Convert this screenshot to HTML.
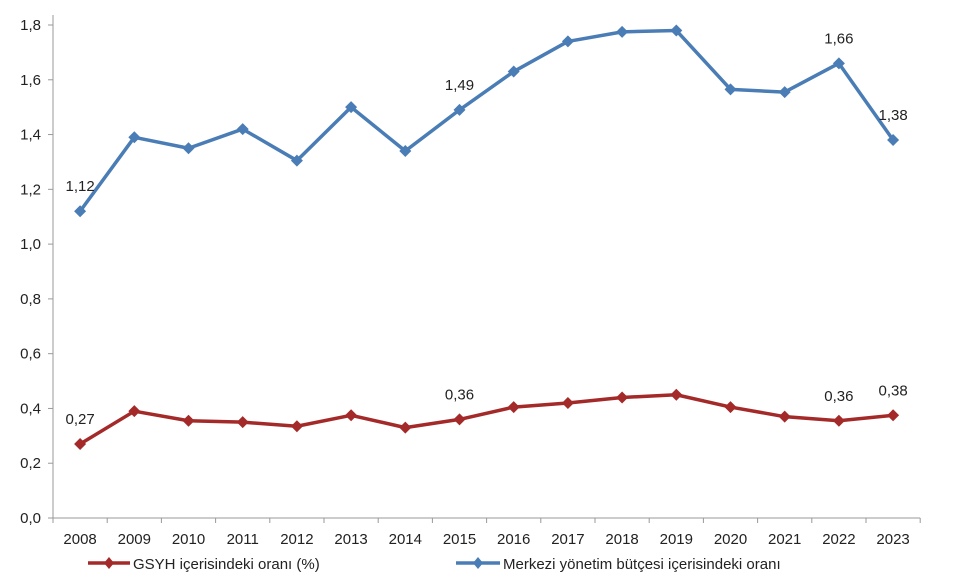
<!DOCTYPE html>
<html><head><meta charset="utf-8"><style>
body{margin:0;background:#fff}
svg text{font-family:"Liberation Sans",sans-serif;font-size:15px;fill:#222}
</style></head><body>
<svg width="960" height="576" id="c">
<g id="axes"></g><g id="marks"></g>
<g>
<g>
<line x1="88" y1="563" x2="130" y2="563" stroke="#a32a28" stroke-width="3.5"/>
<path d="M109 557 L114 563 L109 569 L104 563Z" fill="#a32a28"/>
<text x="133" y="569">GSYH içerisindeki oranı (%)</text></g>
<g>
<line x1="456" y1="563" x2="500" y2="563" stroke="#4a7db5" stroke-width="3.5"/>
<path d="M478 557 L483 563 L478 569 L473 563Z" fill="#4a7db5"/>
<text x="503" y="569">Merkezi yönetim bütçesi içerisindeki oranı</text></g>
</g>
</svg>
<script>
const years=["2008","2009","2010","2011","2012","2013","2014","2015","2016","2017","2018","2019","2020","2021","2022","2023"];
const budgetShare=[1.12,1.39,1.35,1.42,1.305,1.50,1.34,1.49,1.63,1.74,1.775,1.78,1.565,1.555,1.66,1.38];
const gdpShare=[0.27,0.39,0.355,0.35,0.335,0.375,0.33,0.36,0.405,0.42,0.44,0.45,0.405,0.37,0.355,0.375];
const yTicks=[0,0.2,0.4,0.6,0.8,1.0,1.2,1.4,1.6,1.8];
const budgetLabels={0:"1,12",7:"1,49",14:"1,66",15:"1,38"};
const gdpLabels={0:"0,27",7:"0,36",14:"0,36",15:"0,38"};
const NS="http://www.w3.org/2000/svg";
const x0=53,step=54.2,y0=518,ppu=(518-25)/1.8;
const X=i=>x0+step*(i+0.5), Y=v=>y0-v*ppu;
function mk(t,a,p){const e=document.createElementNS(NS,t);for(const k in a)e.setAttribute(k,a[k]);p.appendChild(e);return e;}
const ax=document.getElementById('axes'),mg=document.getElementById('marks');
let l=mk('line',{x1:x0,y1:15,x2:x0,y2:y0,stroke:'#999'},ax);


l=mk('line',{x1:x0,y1:y0,x2:x0+step*years.length,y2:y0,stroke:'#999'},ax);


yTicks.forEach(v=>{mk('line',{x1:x0-5,y1:Y(v),x2:x0,y2:Y(v),stroke:'#999'},ax);
const t=mk('text',{x:x0-12,y:Y(v)+5,'text-anchor':'end'},ax);t.textContent=v.toFixed(1).replace('.',',');

});
for(let i=0;i<=years.length;i++)mk('line',{x1:x0+step*i,y1:y0,x2:x0+step*i,y2:y0+5,stroke:'#999'},ax);
years.forEach((y,i)=>{const t=mk('text',{x:X(i),y:y0+26,'text-anchor':'middle'},ax);t.textContent=y;

});
function series(vals,col,name,labels){
const g=mk('g',{},mg);


mk('polyline',{points:vals.map((v,i)=>X(i)+','+Y(v)).join(' '),fill:'none',stroke:col,'stroke-width':3.5,'stroke-linejoin':'round'},g);
vals.forEach((v,i)=>{const p=mk('path',{d:`M${X(i)} ${Y(v)-6}L${X(i)+6} ${Y(v)}L${X(i)} ${Y(v)+6}L${X(i)-6} ${Y(v)}Z`,fill:col},g);


if(labels[i]){const t=mk('text',{x:X(i),y:Y(v)-20,'text-anchor':'middle'},g);t.textContent=labels[i];

}});}
series(budgetShare,'#4a7db5','budget-series',budgetLabels);
series(gdpShare,'#a32a28','gdp-series',gdpLabels);
</script>
</body></html>
